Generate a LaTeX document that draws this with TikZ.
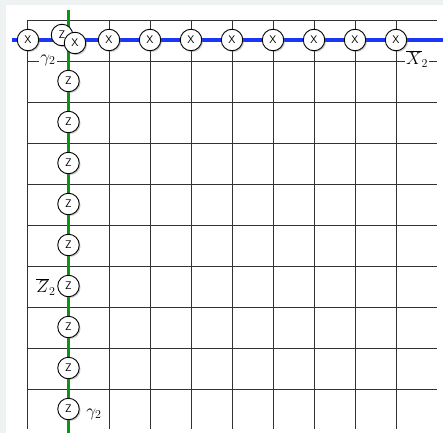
\documentclass[tikz,border=0pt]{standalone}
\usetikzlibrary{shadows}
\definecolor{bgray}{RGB}{238,242,242}
\definecolor{gridc}{RGB}{50,50,50}
\definecolor{bl}{RGB}{25,55,245}
\definecolor{gr}{RGB}{10,150,20}
\tikzset{
  site/.style={circle, draw=black, line width=0.9pt, fill=white, minimum size=21.5pt, inner sep=0pt,
    font=\sffamily\fontsize{11}{13}\selectfont,
    drop shadow={opacity=0.4, shadow xshift=1.3pt, shadow yshift=-1.3pt}},
  gridline/.style={draw=gridc, line width=0.9pt},
  lbl/.style={font=\fontsize{18}{21}\selectfont, inner sep=1pt},
  chain/.style={line width=3.8pt}
}
\begin{document}
\begin{tikzpicture}[x=1pt,y=-1pt]
\useasboundingbox (0,0) rectangle (443,433);
\fill[bgray] (0,0) rectangle (443,433);
\fill[white] (6,5) rectangle (443,433);
% grid
\foreach \i in {0,...,9} {
  \draw[gridline] (27+41*\i,20) -- (27+41*\i,429);
  \draw[gridline] (27,20+41*\i) -- (437,20+41*\i);
}
% labels
\node[lbl, fill=white] (g1) at (48,60) {$\gamma_2$};
\node[lbl, fill=white] (xb) at (417,59) {$\overline{X}_2$};
\node[lbl] (zb) at (46,287) {$\overline{Z}_2$};
\node[lbl] (g2) at (94,414) {$\gamma_2$};
% chains
\coordinate (bL) at (12,40);
\coordinate (bR) at (443,40);
\coordinate (gT) at (68.5,10);
\coordinate (gB) at (68.5,433);
\draw[chain, bl] (bL) -- (bR);
\draw[chain, gr] (gT) -- (gB);
% Z sites
\node[site] (zt) at (62,35) {Z};
\foreach \k in {0,...,8} {
  \node[site] (z\k) at (68.5,81+41*\k) {Z};
}
% X sites
\node[site] (x0) at (28,40) {X};
\node[site] (xt) at (75,43) {X};
\foreach \i in {2,...,9} {
  \node[site] (x\i) at (27+41*\i,40) {X};
}
\end{tikzpicture}
\end{document}
